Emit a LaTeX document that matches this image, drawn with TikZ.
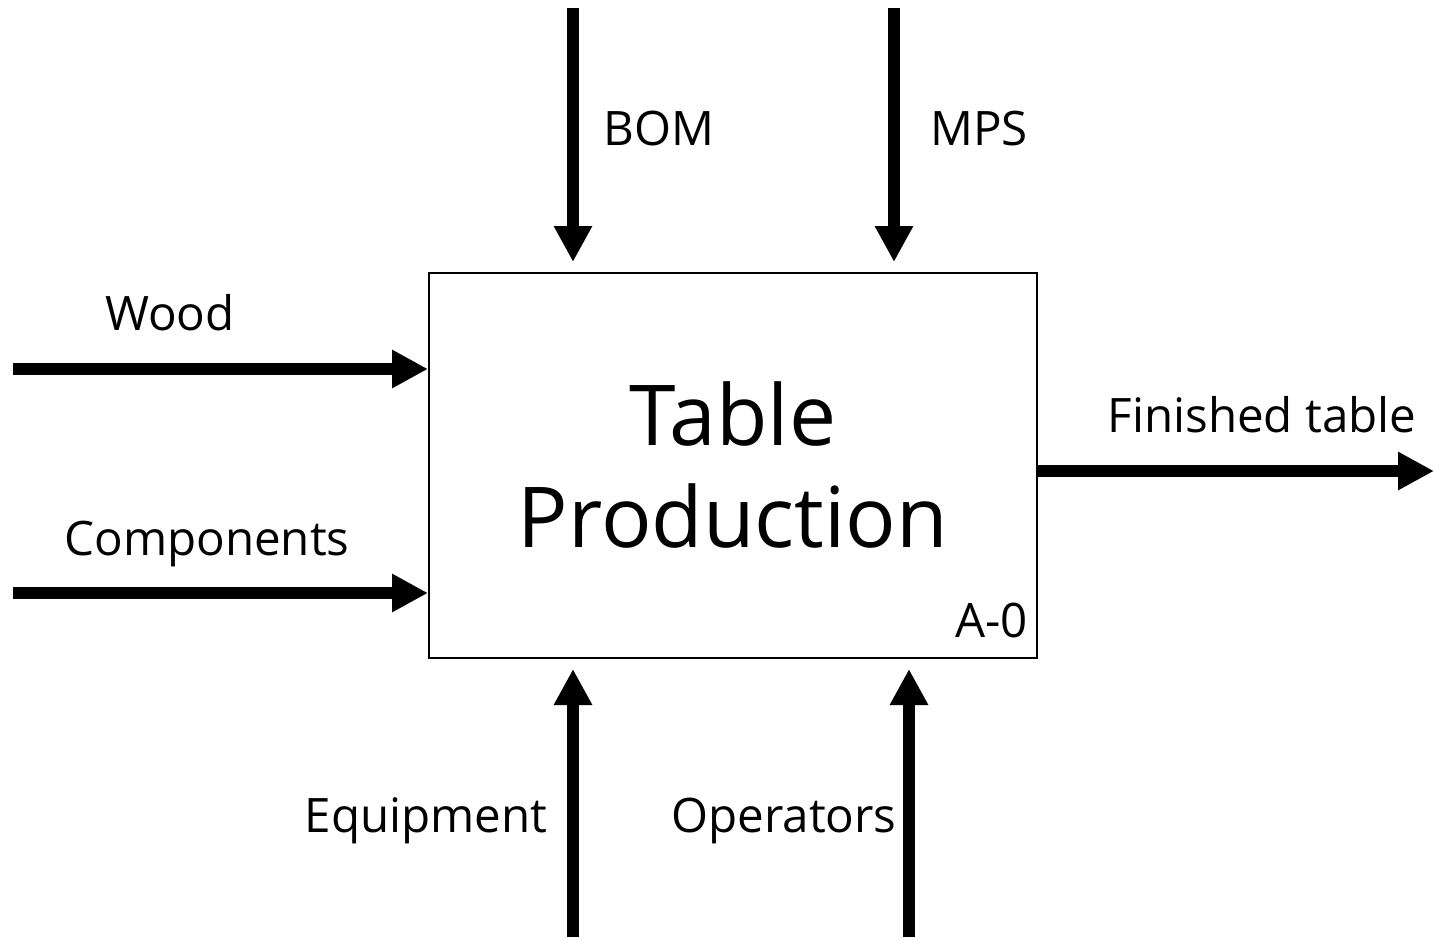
\documentclass[tikz,border=0pt]{standalone}
\usepackage{fontspec}
\setmainfont{Open Sans}
\usetikzlibrary{arrows.meta}
\begin{document}
\begin{tikzpicture}[x=1pt,y=-1pt,
  flow/.style={line width=12pt, -{Triangle[length=36pt,width=36pt]}},
  lbl/.style={anchor=base, inner sep=0pt, font=\fontsize{47.5}{54}\selectfont},
  title/.style={anchor=base, inner sep=0pt, font=\fontsize{84}{96}\selectfont},
  actbox/.style={draw, line width=2pt, minimum width=608pt, minimum height=385pt, inner sep=0pt}]
\useasboundingbox (0,0) rectangle (1434,937);

% activity box
\node[actbox] (act) at (733,465.5) {};
\node[title] (t1) at (733,445) {Table};
\node[title] (t2) at (733,547) {Production};
\node[lbl, anchor=base east] (code) at (1028,637) {A-0};

% free ends of the arrows
\coordinate (woodS) at (13,369);
\coordinate (compS) at (13,593);
\coordinate (bomS) at (573,8);
\coordinate (mpsS) at (894,8);
\coordinate (eqS) at (573,937);
\coordinate (opS) at (909,937);
\coordinate (outE) at (1434,471);

% inputs
\draw[flow] (woodS) -- (woodS -| act.west);
\draw[flow] (compS) -- (compS -| act.west);
% controls
\draw[flow] (bomS) -- ([yshift=10pt]bomS |- act.north);
\draw[flow] (mpsS) -- ([yshift=10pt]mpsS |- act.north);
% mechanisms
\draw[flow] (eqS) -- ([yshift=-10pt]eqS |- act.south);
\draw[flow] (opS) -- ([yshift=-10pt]opS |- act.south);
% output
\draw[flow] (outE -| act.east) -- (outE);

% labels
\node[lbl] (lwood) at (170,330) {Wood};
\node[lbl] (lcomp) at (207,555) {Components};
\node[lbl] (lbom) at (659,145) {BOM};
\node[lbl] (lmps) at (979,145) {MPS};
\node[lbl] (leq) at (426,832) {Equipment};
\node[lbl] (lop) at (784,832) {Operators};
\node[lbl] (lout) at (1262,432) {Finished table};
\end{tikzpicture}
\end{document}
